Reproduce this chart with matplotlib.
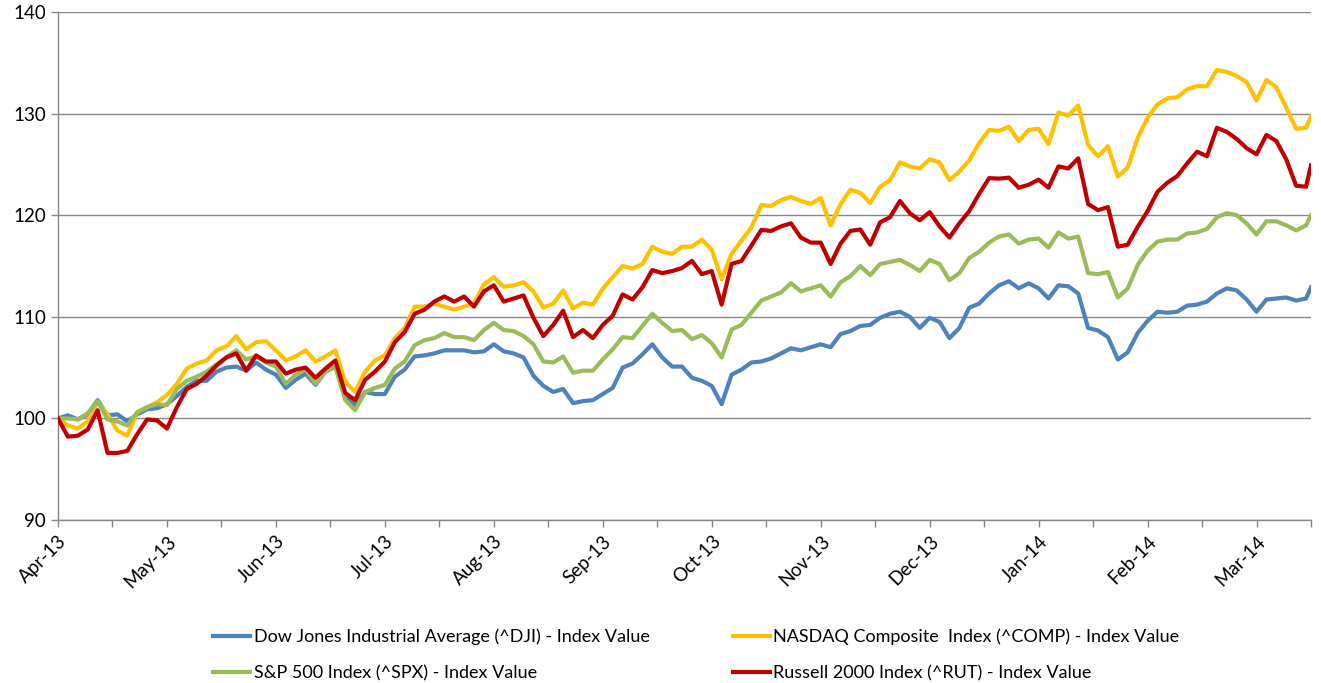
import matplotlib
matplotlib.use("Agg")
import matplotlib.pyplot as plt
import numpy as np

# trading day index of each reading (every second session, plus the last one)
dias = list(range(0, 253, 2)) + [253]

meses = ["Apr-13", "May-13", "Jun-13", "Jul-13", "Aug-13", "Sep-13",
         "Oct-13", "Nov-13", "Dec-13", "Jan-14", "Feb-14", "Mar-14"]

dji = [100.0, 100.3, 99.9, 100.4, 101.8, 100.3, 100.4, 99.7, 100.4, 100.9,
       101.0, 101.4, 102.2, 103.1, 103.7, 103.7, 104.6, 105.0, 105.1, 104.7,
       105.5, 104.8, 104.3, 103.0, 103.8, 104.4, 103.3, 104.6, 105.1, 102.1,
       101.3, 102.6, 102.4, 102.4, 104.1, 104.8, 106.1, 106.2, 106.4, 106.7,
       106.7, 106.7, 106.5, 106.6, 107.3, 106.6, 106.4, 106.0, 104.2, 103.2,
       102.6, 102.9, 101.5, 101.7, 101.8, 102.4, 103.0, 105.0, 105.4, 106.3,
       107.3, 106.0, 105.1, 105.1, 104.0, 103.7, 103.2, 101.4, 104.3, 104.8,
       105.5, 105.6, 105.9, 106.4, 106.9, 106.7, 107.0, 107.3, 107.0, 108.3,
       108.6, 109.1, 109.2, 109.9, 110.3, 110.5, 110.0, 108.9, 109.9, 109.5,
       107.9, 108.9, 110.9, 111.3, 112.3, 113.1, 113.5, 112.8, 113.3, 112.8,
       111.8, 113.1, 113.0, 112.3, 108.9, 108.65, 108.0, 105.8, 106.5, 108.4,
       109.6, 110.5, 110.4, 110.5, 111.1, 111.2, 111.5, 112.3, 112.8, 112.6,
       111.7, 110.5, 111.7, 111.8, 111.9, 111.6, 111.8, 112.9]

comp = [100.0, 99.3, 99.0, 99.7, 101.6, 100.4, 98.8, 98.3, 100.6, 101.1,
        101.6, 102.3, 103.4, 104.9, 105.4, 105.7, 106.7, 107.1, 108.1, 106.8,
        107.5, 107.6, 106.7, 105.7, 106.1, 106.7, 105.6, 106.1, 106.7, 103.6,
        102.6, 104.6, 105.7, 106.2, 107.9, 108.9, 111.0, 111.0, 111.3, 111.0,
        110.7, 111.0, 111.3, 113.2, 113.9, 112.95, 113.1, 113.4, 112.5, 110.9,
        111.3, 112.6, 110.8, 111.4, 111.2, 112.75, 113.9, 115.0, 114.75, 115.2,
        116.9, 116.4, 116.2, 116.9, 116.9, 117.6, 116.6, 113.7, 116.2, 117.5,
        118.8, 121.0, 120.9, 121.5, 121.8, 121.4, 121.1, 121.7, 119.0, 121.1,
        122.5, 122.2, 121.2, 122.8, 123.45, 125.2, 124.8, 124.6, 125.5, 125.2,
        123.45, 124.3, 125.4, 127.1, 128.4, 128.3, 128.7, 127.3, 128.4, 128.5,
        127.0, 130.1, 129.8, 130.8, 126.9, 125.8, 126.8, 123.8, 124.7, 127.6,
        129.6, 130.9, 131.5, 131.6, 132.4, 132.7, 132.7, 134.3, 134.1, 133.7,
        133.1, 131.3, 133.3, 132.6, 130.6, 128.5, 128.6, 129.7]

spx = [100.0, 100.0, 99.9, 100.5, 101.7, 99.9, 99.7, 99.3, 100.6, 101.1,
       101.4, 101.3, 102.9, 103.7, 104.1, 104.6, 105.3, 106.0, 106.7, 105.8,
       106.1, 105.5, 105.1, 103.4, 104.3, 104.8, 103.4, 104.6, 105.1, 101.8,
       100.8, 102.6, 103.0, 103.3, 104.9, 105.6, 107.2, 107.7, 107.9, 108.4,
       108.0, 108.0, 107.7, 108.7, 109.4, 108.7, 108.6, 108.1, 107.3, 105.6,
       105.5, 106.1, 104.5, 104.7, 104.7, 105.8, 106.8, 108.0, 107.9, 109.1,
       110.3, 109.4, 108.6, 108.7, 107.8, 108.2, 107.4, 106.0, 108.75, 109.2,
       110.4, 111.6, 112.0, 112.4, 113.3, 112.5, 112.8, 113.1, 112.0, 113.4,
       114.0, 115.0, 114.1, 115.2, 115.4, 115.6, 115.1, 114.5, 115.6, 115.2,
       113.6, 114.3, 115.8, 116.4, 117.3, 117.9, 118.1, 117.2, 117.6, 117.7,
       116.8, 118.3, 117.7, 117.9, 114.3, 114.2, 114.4, 111.9, 112.8, 115.1,
       116.5, 117.4, 117.6, 117.6, 118.2, 118.3, 118.65, 119.8, 120.2, 120.0,
       119.2, 118.1, 119.4, 119.4, 119.0, 118.5, 119.0, 120.0]

rut = [100.0, 98.2, 98.3, 98.9, 100.8, 96.6, 96.6, 96.8, 98.45, 99.9,
       99.8, 99.0, 101.1, 102.9, 103.4, 104.2, 105.2, 106.0, 106.4, 104.7,
       106.2, 105.6, 105.6, 104.4, 104.8, 105.0, 104.0, 104.9, 105.7, 102.5,
       101.8, 103.8, 104.6, 105.6, 107.5, 108.5, 110.3, 110.7, 111.5, 112.0,
       111.5, 112.0, 111.0, 112.5, 113.1, 111.5, 111.8, 112.1, 109.9, 108.1,
       109.2, 110.6, 108.0, 108.7, 107.9, 109.2, 110.1, 112.2, 111.7, 112.9,
       114.6, 114.3, 114.5, 114.8, 115.5, 114.2, 114.5, 111.2, 115.2, 115.5,
       117.0, 118.55, 118.45, 118.9, 119.2, 117.8, 117.3, 117.3, 115.2, 117.2,
       118.45, 118.6, 117.1, 119.3, 119.8, 121.4, 120.2, 119.5, 120.3, 118.9,
       117.8, 119.2, 120.4, 122.1, 123.65, 123.6, 123.7, 122.7, 123.0, 123.5,
       122.7, 124.8, 124.6, 125.6, 121.1, 120.5, 120.8, 116.9, 117.1, 118.85,
       120.4, 122.3, 123.2, 123.85, 125.1, 126.25, 125.8, 128.6, 128.2, 127.5,
       126.6, 126.0, 127.9, 127.3, 125.5, 122.9, 122.8, 124.9]

nombres = ["Dow Jones Industrial Average (^DJI) - Index Value",
           "NASDAQ Composite  Index (^COMP) - Index Value",
           "S&P 500 Index (^SPX) - Index Value",
           "Russell 2000 Index (^RUT) - Index Value"]
colores = ["#4F81BD", "#FFC000", "#9BBB59", "#C00000"]

plt.rcParams["font.family"] = ["Lato", "DejaVu Sans"]
gris = "#868686"

fig = plt.figure(figsize=(13.21, 6.83), dpi=100)
ax = fig.add_axes([58 / 1321, 1 - 520 / 683, (1311 - 58) / 1321, (520 - 12) / 683])

lineas = []
for serie, nombre, color in zip([dji, comp, spx, rut], nombres, colores):
    l, = ax.plot(dias, serie, color=color, lw=3, label=nombre,
                 solid_joinstyle="round", zorder=3)
    lineas.append(l)

ax.set_xlim(0, 253)
ax.set_ylim(90, 140)
ax.set_yticks(range(90, 141, 10))
ax.grid(axis="y", color=gris, lw=1)
ax.set_axisbelow(True)

ax.set_xticks(range(0, 254, 22))
ax.set_xticklabels(meses, rotation=45, ha="right", rotation_mode="anchor")
ax.set_xticks(range(11, 254, 22), minor=True)

for lado in ["top", "right"]:
    ax.spines[lado].set_visible(False)
for lado in ["left", "bottom"]:
    ax.spines[lado].set_color(gris)
    ax.spines[lado].set_linewidth(1)
ax.tick_params(axis="both", which="both", color=gris, length=5, width=1,
               labelsize=13.5, labelcolor="black")
ax.tick_params(axis="x", which="major", pad=4)

# legend order puts DJI / S&P in the first column, NASDAQ / Russell in the second
orden = [lineas[0], lineas[2], lineas[1], lineas[3]]
fig.legend(orden, [l.get_label() for l in orden], loc="center",
           bbox_to_anchor=(0.527, 0.041), ncol=2, frameon=False,
           fontsize=13, handlelength=2.05, handletextpad=0.2,
           columnspacing=4.6, labelspacing=1.1)

fig.savefig("out.png", dpi=100)
